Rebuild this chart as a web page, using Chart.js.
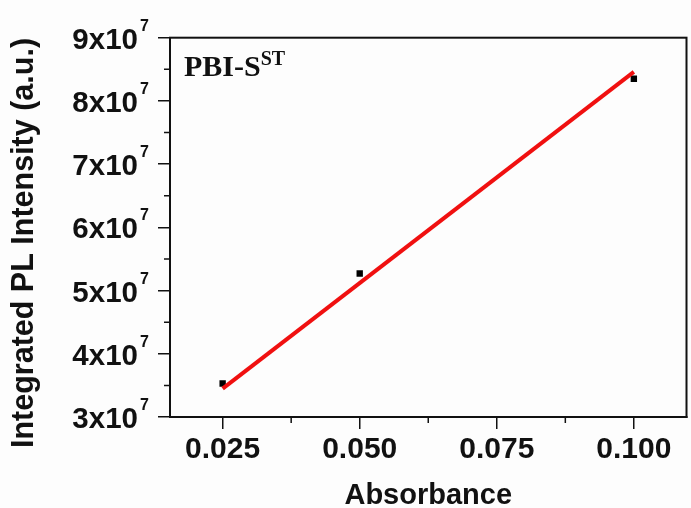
<!DOCTYPE html>
<html>
<head>
<meta charset="utf-8">
<script src="https://cdn.jsdelivr.net/npm/chart.js@4.4.0/dist/chart.umd.min.js"></script>
<style>
  html, body { margin: 0; padding: 0; background: #fdfdfd; }
  #wrap { width: 691px; height: 508px; }
</style>
</head>
<body>
<div id="wrap"><canvas id="plchart" width="691" height="508"></canvas></div>
<script>
// measured data
var absorbance = [0.025, 0.050, 0.100];
var intensity = [3.53e7, 5.27e7, 8.35e7];

// linear fit line (end points as drawn)
var fitX = [0.025, 0.100];
var fitY = [3.45e7, 8.46e7];

// axis ticks
var xTicks = [0.025, 0.050, 0.075, 0.100];
var xMinor = [0.0375, 0.0625, 0.0875];
var yTicks = [3e7, 4e7, 5e7, 6e7, 7e7, 8e7, 9e7];
var yMinor = [3.5e7, 4.5e7, 5.5e7, 6.5e7, 7.5e7, 8.5e7];
var yExp = '7';

var xTitle = 'Absorbance';
var yTitle = 'Integrated PL Intensity (a.u.)';
var sampleLabel = 'PBI-S';
var sampleSup = 'ST';

var sansFont = '"Liberation Sans", Arial';

function toPoints(xs, ys) {
    var pts = [];
    for (var i = 0; i < xs.length; i++) {
        pts.push({x: xs[i], y: ys[i]});
    }
    return pts;
}

// background, frame, minor ticks, exponents, y title and the sample label
var framePlugin = {
    id: 'frame',
    beforeDraw: function (chart) {
        var ctx = chart.ctx;
        ctx.save();
        ctx.fillStyle = '#fdfdfd';
        ctx.fillRect(0, 0, chart.width, chart.height);
        ctx.restore();
    },
    afterDraw: function (chart) {
        var ctx = chart.ctx;
        var a = chart.chartArea;
        var xs = chart.scales.x, ys = chart.scales.y;
        ctx.save();
        ctx.strokeStyle = '#111';
        ctx.lineWidth = 2;
        ctx.strokeRect(a.left, a.top, a.right - a.left, a.bottom - a.top);

        ctx.beginPath();
        xMinor.forEach(function (v) {
            var px = xs.getPixelForValue(v);
            ctx.moveTo(px, a.bottom);
            ctx.lineTo(px, a.bottom + 6);
        });
        yMinor.forEach(function (v) {
            var py = ys.getPixelForValue(v);
            ctx.moveTo(a.left, py);
            ctx.lineTo(a.left - 6, py);
        });
        ctx.lineWidth = 1.5;
        ctx.stroke();

        // exponent of the y tick labels
        ctx.fillStyle = '#111';
        ctx.font = 'bold 16px ' + sansFont;
        ctx.textAlign = 'left';
        ctx.textBaseline = 'alphabetic';
        yTicks.forEach(function (v) {
            var py = ys.getPixelForValue(v);
            ctx.fillText(yExp, a.left - 30, py - 7);
        });

        // y axis title, a bit below the middle of the axis like the original
        ctx.save();
        ctx.translate(25, 243);
        ctx.rotate(-Math.PI / 2);
        ctx.textAlign = 'center';
        ctx.textBaseline = 'middle';
        ctx.font = 'bold 30.5px ' + sansFont;
        ctx.fillText(yTitle, 0, 0);
        ctx.restore();

        ctx.font = 'bold 30px "Liberation Serif"';
        ctx.fillText(sampleLabel, a.left + 14, a.top + 38);
        var w = ctx.measureText(sampleLabel).width;
        ctx.font = 'bold 20px "Liberation Serif"';
        ctx.fillText(sampleSup, a.left + 14 + w, a.top + 27);
        ctx.restore();
    }
};

var ctx = document.getElementById('plchart').getContext('2d');
var chart = new Chart(ctx, {
    type: 'scatter',
    data: {
        datasets: [
            {
                type: 'line',
                label: 'fit',
                data: toPoints(fitX, fitY),
                borderColor: '#f01010',
                borderWidth: 4,
                pointRadius: 0,
                fill: false
            },
            {
                label: 'PBI-S',
                data: toPoints(absorbance, intensity),
                pointStyle: 'rect',
                pointRadius: 4.5,
                backgroundColor: '#000',
                borderColor: '#000',
                borderWidth: 0
            }
        ]
    },
    options: {
        responsive: false,
        animation: false,
        layout: { padding: { top: 32, right: 1, left: 0, bottom: 0 } },
        plugins: {
            legend: { display: false },
            tooltip: { enabled: false }
        },
        scales: {
            x: {
                type: 'linear',
                min: 0.0154,
                max: 0.1096,
                afterBuildTicks: function (scale) {
                    scale.ticks = xTicks.map(function (v) { return {value: v}; });
                },
                afterFit: function (scale) { scale.height = 91; },
                grid: {
                    drawOnChartArea: false,
                    drawTicks: true,
                    tickLength: 12,
                    tickColor: '#111',
                    lineWidth: 1.5
                },
                border: { display: true, color: '#111', width: 2 },
                ticks: {
                    color: '#111',
                    padding: 3,
                    maxRotation: 0,
                    font: { family: sansFont, size: 30, weight: 'bold' },
                    callback: function (v) { return v.toFixed(3); }
                },
                title: {
                    display: true,
                    text: xTitle,
                    color: '#111',
                    padding: { top: 0, bottom: -2 },
                    font: { family: sansFont, size: 29, weight: 'bold', lineHeight: 1 }
                }
            },
            y: {
                min: 3e7,
                max: 9e7,
                afterBuildTicks: function (scale) {
                    scale.ticks = yTicks.map(function (v) { return {value: v}; });
                },
                afterFit: function (scale) { scale.width = 170; },
                grid: {
                    drawOnChartArea: false,
                    drawTicks: true,
                    tickLength: 12,
                    tickColor: '#111',
                    lineWidth: 1.5
                },
                border: { display: true, color: '#111', width: 2 },
                ticks: {
                    color: '#111',
                    padding: 20,
                    labelOffset: 3,
                    font: { family: sansFont, size: 29.5, weight: 'bold' },
                    callback: function (v) { return Math.round(v / 1e7) + 'x10'; }
                },
                title: { display: false }
            }
        }
    },
    plugins: [framePlugin]
});
</script>
</body>
</html>
